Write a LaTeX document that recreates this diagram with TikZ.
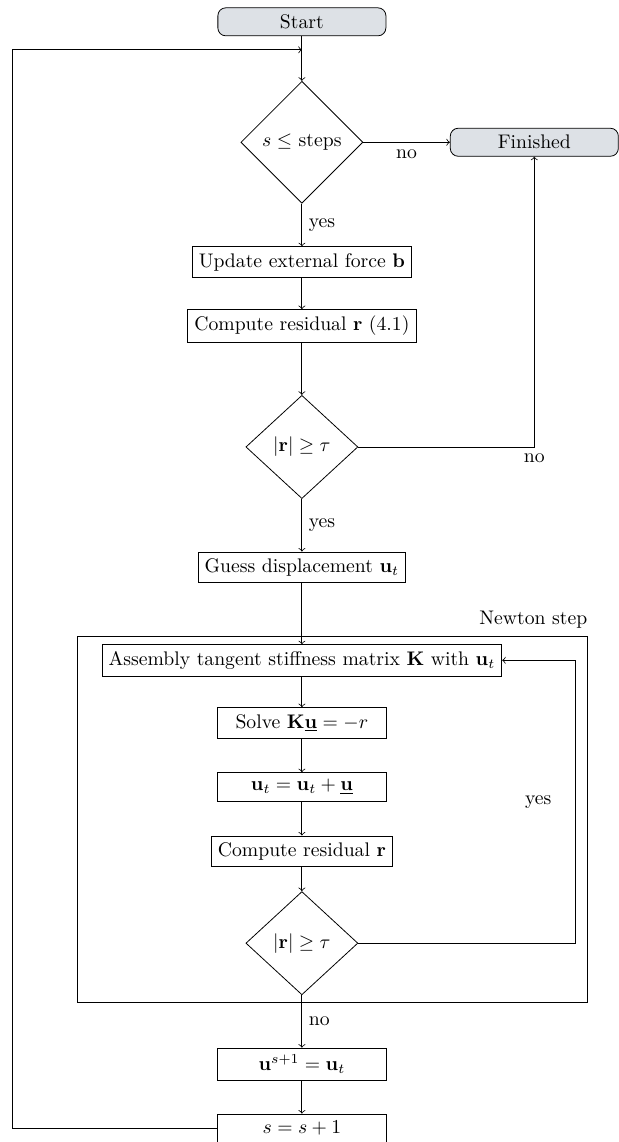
\documentclass[tikz,border=0pt]{standalone}
\usetikzlibrary{shapes.geometric}
\definecolor{termgray}{HTML}{DDE1E6}
\begin{document}
\begin{tikzpicture}[
  term/.style={draw,rounded corners,fill=termgray,minimum width=3cm,minimum height=0.5cm},
  proc/.style={draw,minimum width=3cm,minimum height=0.5cm},
  dec/.style={draw,diamond,minimum width=2cm}]
\pgfmathsetmacro{\xm}{5.39}
\useasboundingbox (0,0) rectangle (11.05,-20.39);
% outer loop
\node[term](start) at (\xm,-0.39){Start};
\coordinate (join) at (\xm,-0.89);
\node[dec](cond) at (\xm,-2.54){$s\leq$ steps};
\node[term](fin) at (9.54,-2.54){Finished};
\node[proc](force) at (\xm,-4.68){Update external force $\mathbf{b}$};
\node[proc](res) at (\xm,-5.82){Compute residual $\mathbf{r}$ (4.1)};
\node[dec](conv) at (\xm,-7.98){$|\mathbf{r}|\geq\tau$};
\node[proc](guess) at (\xm,-10.13){Guess displacement $\mathbf{u}_t$};
% newton step
\node[draw,minimum width=9.11cm,minimum height=6.55cm](newton) at (5.93,-14.63){};
\node[anchor=south east,inner xsep=0pt](nlabel) at (newton.north east){Newton step};
\node[proc](asm) at (\xm,-11.79){Assembly tangent stiffness matrix $\mathbf{K}$ with $\mathbf{u}_t$};
\node[proc](solve) at (\xm,-12.91){Solve $\mathbf{K}\underline{\mathbf{u}}=-r$};
\node[proc](upd) at (\xm,-14.05){$\mathbf{u}_t=\mathbf{u}_t+\underline{\mathbf{u}}$};
\node[proc](nres) at (\xm,-15.20){Compute residual $\mathbf{r}$};
\node[dec](nconv) at (\xm,-16.84){$|\mathbf{r}|\geq\tau$};
\node[proc](next) at (\xm,-19.00){$\mathbf{u}^{s+1}=\mathbf{u}_t$};
\node[proc](inc) at (\xm,-20.14){$s=s+1$};
\coordinate (ret) at (10.27,-11.79);
\coordinate (loop) at (0.23,-0.89);
% connectors
\draw[->](start)--(cond);
\draw[->](cond)--node[below]{no}(fin);
\draw[->](cond)--node[right]{yes}(force);
\draw[->](force)--(res);
\draw[->](res)--(conv);
\draw[->](conv)-|node[pos=0.5,below]{no}(fin);
\draw[->](conv)--node[right]{yes}(guess);
\draw[->](guess)--(asm);
\draw[->](asm)--(solve);
\draw[->](solve)--(upd);
\draw[->](upd)--(nres);
\draw[->](nres)--(nconv);
\draw[->](nconv)-|node[pos=0.75,left=0.3cm]{yes}(ret)--(asm);
\draw[->](nconv)--node[right]{no}(next);
\draw[->](next)--(inc);
\draw[->](inc)-|(loop)--(join);
\end{tikzpicture}
\end{document}
